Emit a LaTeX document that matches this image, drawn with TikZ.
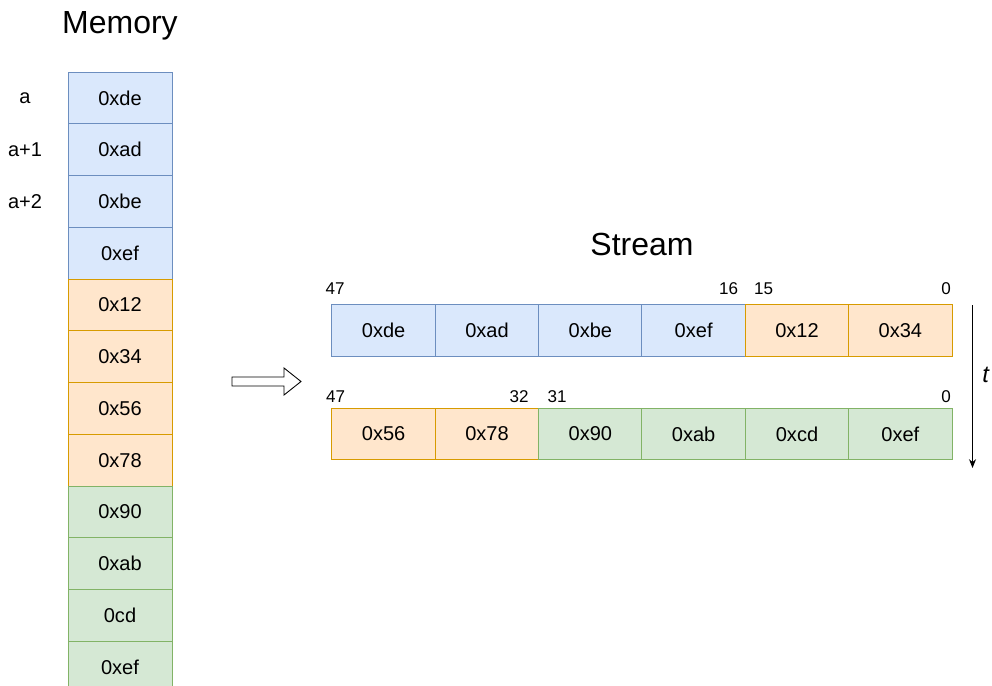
\documentclass[tikz,border=0pt]{standalone}
\usepackage{fontspec}
\setmainfont{Liberation Sans}
\usetikzlibrary{arrows.meta}

\definecolor{blueFill}{HTML}{DAE8FC}
\definecolor{blueLine}{HTML}{6C8EBF}
\definecolor{orangeFill}{HTML}{FFE6CC}
\definecolor{orangeLine}{HTML}{D79B00}
\definecolor{greenFill}{HTML}{D5E8D4}
\definecolor{greenLine}{HTML}{82B366}

\begin{document}
\begin{tikzpicture}[
    cell/.style={draw, line width=0.5pt, minimum width=2.08cm, minimum height=1.034cm, inner sep=0pt, font=\fontsize{11.4}{13}\selectfont},
    bcell/.style={cell, fill=blueFill, draw=blueLine},
    ocell/.style={cell, fill=orangeFill, draw=orangeLine},
    gcell/.style={cell, fill=greenFill, draw=greenLine},
    title/.style={font=\fontsize{18.2}{21}\selectfont},
    addr/.style={font=\fontsize{11.4}{13}\selectfont},
    bit/.style={inner sep=0pt, font=\fontsize{9.7}{11}\selectfont}]
    \clip (0,0) rectangle (19.84,-13.72);

    % memory column
    \node[title] (memtitle) at (2.4,-0.52) {Memory};
    \node[bcell] (m0) at (2.4,-1.958) {0xde};
    \node[bcell] (m1) at (2.4,-2.993) {0xad};
    \node[bcell] (m2) at (2.4,-4.028) {0xbe};
    \node[bcell] (m3) at (2.4,-5.063) {0xef};
    \node[ocell] (m4) at (2.4,-6.098) {0x12};
    \node[ocell] (m5) at (2.4,-7.133) {0x34};
    \node[ocell] (m6) at (2.4,-8.168) {0x56};
    \node[ocell] (m7) at (2.4,-9.203) {0x78};
    \node[gcell] (m8) at (2.4,-10.238) {0x90};
    \node[gcell] (m9) at (2.4,-11.273) {0xab};
    \node[gcell] (m10) at (2.4,-12.308) {0cd};
    \node[gcell] (m11) at (2.4,-13.343) {0xef};
    \node[addr] (a0) at (0.5,-1.958) {a};
    \node[addr] (a1) at (0.5,-2.993) {a+1};
    \node[addr] (a2) at (0.5,-4.028) {a+2};

    % hollow arrow memory -> stream
    \draw[line width=0.5pt, fill=white] (4.64,-7.54) -- (5.68,-7.54) -- (5.68,-7.36) -- (6.02,-7.63)
        -- (5.68,-7.90) -- (5.68,-7.72) -- (4.64,-7.72) -- cycle;

    % stream, first word
    \node[title] (sttitle) at (12.84,-4.88) {Stream};
    \node[bcell] (s0) at (7.673,-6.61) {0xde};
    \node[bcell] (s1) at (9.74,-6.61) {0xad};
    \node[bcell] (s2) at (11.807,-6.61) {0xbe};
    \node[bcell] (s3) at (13.873,-6.61) {0xef};
    \node[ocell] (s4) at (15.94,-6.61) {0x12};
    \node[ocell] (s5) at (18.007,-6.61) {0x34};
    \node[bit] (b47a) at (6.7,-5.77) {47};
    \node[bit] (b16) at (14.57,-5.77) {16};
    \node[bit] (b15) at (15.27,-5.77) {15};
    \node[bit] (b0a) at (18.92,-5.77) {0};

    % stream, second word
    \node[ocell] (r0) at (7.673,-8.68) {0x56};
    \node[ocell] (r1) at (9.74,-8.68) {0x78};
    \node[gcell] (r2) at (11.807,-8.68) {0x90};
    \node[gcell] (r3) at (13.873,-8.68) {0xab};
    \node[gcell] (r4) at (15.94,-8.68) {0xcd};
    \node[gcell] (r5) at (18.007,-8.68) {0xef};
    \node[bit] (b47b) at (6.71,-7.93) {47};
    \node[bit] (b32) at (10.38,-7.93) {32};
    \node[bit] (b31) at (11.14,-7.93) {31};
    \node[bit] (b0b) at (18.92,-7.93) {0};

    % time axis
    \coordinate (t0) at (19.45,-6.1);
    \coordinate (t1) at (19.45,-9.36);
    \draw[line width=0.5pt, -{Stealth[length=5pt, width=4pt]}] (t0) -- (t1);
    \node[font=\fontsize{13.5}{15}\selectfont] (tlabel) at (19.72,-7.5) {\textit{t}};
  \end{tikzpicture}
\end{document}
